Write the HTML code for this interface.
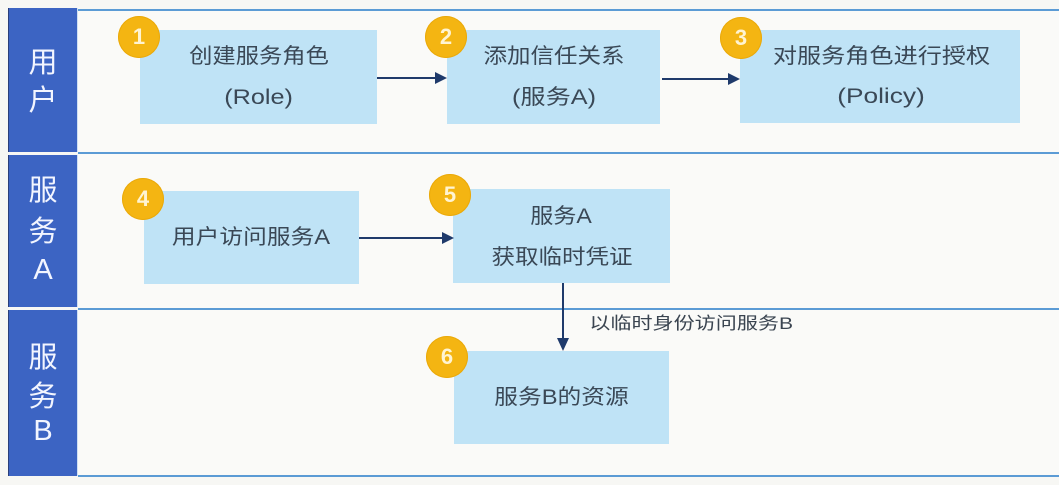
<!DOCTYPE html>
<html>
<head>
<meta charset="utf-8">
<style>
  html,body{margin:0;padding:0;}
  body{width:1059px;height:485px;background:#f7f7f4;position:relative;overflow:hidden;
       font-family:"Liberation Sans","Noto Sans CJK SC",sans-serif;}
  .abs{position:absolute;}
  .lane{position:absolute;left:78px;right:0;height:2px;background:#5b9bd5;}
  .col{position:absolute;left:8px;width:70px;background:#3c64c3;border-left:1px solid #2b3f7a;border-right:1px solid #cfe0f3;box-sizing:border-box;}
  .ct{position:absolute;left:8px;width:70px;text-align:center;color:#f2f5ff;font-size:29px;line-height:30px;
      font-family:"Liberation Sans","Noto Sans CJK SC",sans-serif;}
  .box{position:absolute;background:#bfe3f6;}
  .t{position:absolute;text-align:center;color:#3a4856;font-size:21px;line-height:24px;white-space:nowrap;}
  .t span{display:inline-block;}
  .badge{position:absolute;width:42px;height:42px;border-radius:50%;background:#f4b512;
         color:#fff4d2;font-weight:bold;font-size:22px;line-height:42px;text-align:center;
         font-family:"Liberation Sans",sans-serif;box-shadow:0 0 0 1px #eaa90a inset;}
  .hl{position:absolute;height:2px;background:#1f3a6b;}
  .vl{position:absolute;width:2px;background:#1f3a6b;}
  .ar{position:absolute;width:0;height:0;border-top:6px solid transparent;border-bottom:6px solid transparent;border-left:12px solid #1f3a6b;}
  .ad{position:absolute;width:0;height:0;border-left:6px solid transparent;border-right:6px solid transparent;border-top:13px solid #1f3a6b;}
</style>
</head>
<body>
  <div class="abs" style="left:78px;top:10px;right:0;height:466px;background:#fafaf8;"></div>

  <div class="lane" style="top:9px;"></div>
  <div class="lane" style="top:152px;"></div>
  <div class="lane" style="top:308px;"></div>
  <div class="lane" style="top:475px;"></div>

  <div class="col" style="top:8px;height:144px;"></div>
  <div class="col" style="top:155px;height:152px;"></div>
  <div class="col" style="top:310px;height:166px;"></div>

  <div class="ct" style="top:48px;">用</div>
  <div class="ct" style="top:86px;">户</div>

  <div class="ct" style="top:176px;">服</div>
  <div class="ct" style="top:217px;">务</div>
  <div class="ct" style="top:255px;">A</div>

  <div class="ct" style="top:343px;">服</div>
  <div class="ct" style="top:382px;">务</div>
  <div class="ct" style="top:416px;">B</div>

  <div class="box" style="left:140px;top:30px;width:237px;height:94px;"></div>
  <div class="box" style="left:447px;top:30px;width:213px;height:94px;"></div>
  <div class="box" style="left:740px;top:30px;width:280px;height:93px;"></div>
  <div class="box" style="left:144px;top:191px;width:215px;height:93px;"></div>
  <div class="box" style="left:453px;top:189px;width:217px;height:94px;"></div>
  <div class="box" style="left:454px;top:351px;width:215px;height:93px;"></div>

  <div class="t" style="left:140px;width:237px;top:45px;"><span style="transform:scaleX(1.11)">创建服务角色</span></div>
  <div class="t" style="left:140px;width:237px;top:86px;"><span style="transform:scaleX(1.2)">(Role)</span></div>

  <div class="t" style="left:447px;width:213px;top:45px;"><span style="transform:scaleX(1.12)">添加信任关系</span></div>
  <div class="t" style="left:447px;width:213px;top:86px;"><span style="transform:scaleX(1.2)">(服务A)</span></div>

  <div class="t" style="left:770px;width:223px;top:45px;"><span style="transform:scaleX(1.15)">对服务角色进行授权</span></div>
  <div class="t" style="left:770px;width:223px;top:85px;"><span style="transform:scaleX(1.25)">(Policy)</span></div>

  <div class="t" style="left:144px;width:215px;top:226px;"><span style="transform:scaleX(1.13)">用户访问服务A</span></div>

  <div class="t" style="left:453px;width:217px;top:205px;"><span style="transform:scaleX(1.1)">服务A</span></div>
  <div class="t" style="left:453px;width:217px;top:246px;"><span style="transform:scaleX(1.12)">获取临时凭证</span></div>

  <div class="t" style="left:454px;width:215px;top:386px;"><span style="transform:scaleX(1.13)">服务B的资源</span></div>

  <div class="t" style="left:589px;width:204px;top:314px;font-size:17px;line-height:20px;color:#3a4450;"><span style="transform:scaleX(1.24)">以临时身份访问服务B</span></div>

  <div class="hl" style="left:377px;top:77px;width:60px;"></div>
  <div class="ar" style="left:435px;top:72px;"></div>

  <div class="hl" style="left:662px;top:78px;width:68px;"></div>
  <div class="ar" style="left:728px;top:73px;"></div>

  <div class="hl" style="left:359px;top:237px;width:84px;"></div>
  <div class="ar" style="left:442px;top:232px;"></div>

  <div class="vl" style="left:562px;top:283px;height:56px;"></div>
  <div class="ad" style="left:557px;top:338px;"></div>

  <div class="badge" style="left:118px;top:16px;">1</div>
  <div class="badge" style="left:425px;top:16px;">2</div>
  <div class="badge" style="left:720px;top:17px;">3</div>
  <div class="badge" style="left:122px;top:178px;">4</div>
  <div class="badge" style="left:429px;top:174px;">5</div>
  <div class="badge" style="left:426px;top:336px;">6</div>
</body>
</html>
